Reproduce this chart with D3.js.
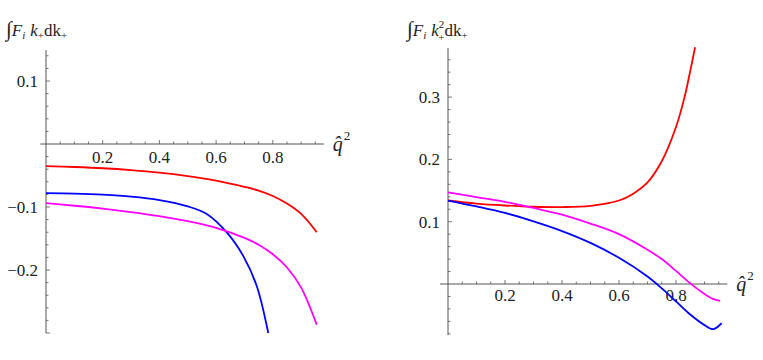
<!DOCTYPE html>
<html><head><meta charset="utf-8">
<script src="https://cdn.jsdelivr.net/npm/d3@7"></script>
<style>body{margin:0;background:#fff}svg{display:block}
svg text, svg tspan{font-family:"Liberation Serif","DejaVu Serif",serif !important;}</style>
</head><body><svg id="c" width="763" height="360"></svg>
<script>
// Left panel: ∫F_i k_+ dk_+
const qRedL = [0,0.1,0.2,0.3,0.4,0.5,0.6,0.7,0.75,0.8,0.85,0.9,0.955];
const redL  = [-0.035,-0.0365,-0.0385,-0.0415,-0.0455,-0.051,-0.058,-0.068,-0.074,-0.0825,-0.0945,-0.111,-0.140];
const qBlueL = [0,0.1,0.2,0.3,0.4,0.5,0.567,0.637,0.696,0.743,0.784];
const blueL  = [-0.078,-0.0788,-0.0805,-0.0835,-0.089,-0.099,-0.111,-0.140,-0.178,-0.225,-0.300];
const qMagL = [0,0.1,0.2,0.3,0.4,0.5,0.6,0.7,0.75,0.8,0.85,0.9,0.955];
const magL  = [-0.094,-0.098,-0.1025,-0.108,-0.1145,-0.1225,-0.133,-0.149,-0.160,-0.175,-0.196,-0.228,-0.287];
// Right panel: ∫F_i k_+^2 dk_+
const qRedR = [0,0.1,0.2,0.3,0.4,0.5,0.6,0.65,0.7,0.75,0.8,0.83,0.85,0.867];
const redR  = [0.134,0.129,0.126,0.124,0.1235,0.1255,0.134,0.145,0.163,0.197,0.252,0.300,0.342,0.380];
const qBlueR = [0,0.1,0.2,0.3,0.4,0.5,0.6,0.7,0.75,0.8,0.85,0.9,0.93,0.96];
const blueR  = [0.134,0.1245,0.114,0.1005,0.085,0.066,0.042,0.012,-0.007,-0.028,-0.049,-0.066,-0.0725,-0.063];
const qMagR = [0,0.1,0.2,0.3,0.4,0.5,0.6,0.7,0.75,0.8,0.85,0.9,0.93,0.955];
const magR  = [0.147,0.1395,0.132,0.122,0.1115,0.097,0.080,0.055,0.040,0.021,0.001,-0.016,-0.024,-0.027];
// tick labels
const xTickLabels = [0.2,0.4,0.6,0.8];
const yTickLabelsL = [0.1,-0.1,-0.2];
const yTickLabelsR = [0.1,0.2,0.3];

const svg = d3.select("#c");
const fmt = v => (v<0?"\u22120":"0") + "." + String(Math.round(Math.abs(v)*10));

function panel(o){
  const x = d3.scaleLinear().domain([0,1]).range([o.x0, o.x0+o.xs]);
  const y = d3.scaleLinear().domain([0,0.1]).range([o.y0, o.y0-o.ys]);
  const g = svg.append("g");
  const ax = "#555";
  g.append("line").attr("x1",x(o.xmin)).attr("x2",x(o.xmax)).attr("y1",y(0)).attr("y2",y(0)).attr("stroke",ax).attr("stroke-width",1);
  g.append("line").attr("x1",x(0)).attr("x2",x(0)).attr("y1",y(o.ymin)).attr("y2",y(o.ymax)).attr("stroke",ax).attr("stroke-width",1);
  d3.range(1,20).map(i=>i*0.05).forEach(v=>{
    const major = Math.abs(v*5-Math.round(v*5))<1e-6;
    g.append("line").attr("x1",x(v)).attr("x2",x(v)).attr("y1",y(0)).attr("y2",y(0)-(major?4:2.5)).attr("stroke",ax).attr("stroke-width",0.8);
  });
  xTickLabels.forEach(v=>{
    g.append("text").attr("x",x(v)).attr("y",y(0)+o.xlabDy).attr("text-anchor","middle").style("font-size","17px").attr("fill","#222").text(fmt(v));
  });
  const n0 = Math.ceil(o.ymin/0.02-1e-6), n1 = Math.floor(o.ymax/0.02+1e-6);
  d3.range(n0,n1+1).forEach(i=>{
    const v=i*0.02; if(i===0) return;
    const major = i%5===0;
    g.append("line").attr("x1",x(0)).attr("x2",x(0)+(major?4:2.5)).attr("y1",y(v)).attr("y2",y(v)).attr("stroke",ax).attr("stroke-width",0.8);
  });
  o.ylabels.forEach(v=>{
    g.append("text").attr("x",x(0)-8).attr("y",y(v)+6).attr("text-anchor","end").style("font-size","17px").attr("fill","#222").text(fmt(v));
  });
  const line = d3.line().x(d=>x(d[0])).y(d=>y(d[1])).curve(d3.curveCatmullRom.alpha(0.5));
  o.series.forEach(s=>{
    g.append("path").attr("d",line(d3.zip(s.q,s.v))).attr("fill","none").attr("stroke",s.c).attr("stroke-width",1.8);
  });
  const t = g.append("text").attr("x",x(o.xmax)+9).attr("y",y(0)+7).style("font-size","20px").attr("fill","#222");
  t.append("tspan").style("font-style","italic").text("q\u0302");
  t.append("tspan").style("font-size","13px").attr("dy",-11).attr("dx",1).text("2");
  const tt = g.append("text").attr("x",o.tx).attr("y",36).style("font-size","17px").attr("fill","#222");
  tt.append("tspan").style("font-size","21px").text("\u222B");
  tt.append("tspan").style("font-style","italic").text("F");
  tt.append("tspan").style("font-style","italic").style("font-size","11px").attr("dy",3).text("i");
  tt.append("tspan").style("font-style","italic").attr("dy",-3).attr("dx",5).text("k");
  if(o.sq){
    tt.append("tspan").style("font-size","11px").attr("dy",-8).text("2");
    tt.append("tspan").style("font-size","11px").attr("dy",13).attr("dx",-6).text("+");
    tt.append("tspan").attr("dy",-5).text("dk");
  } else {
    tt.append("tspan").style("font-size","11px").attr("dy",3).text("+");
    tt.append("tspan").attr("dy",-3).text("dk");
  }
  tt.append("tspan").style("font-size","11px").attr("dy",3).text("+");
}

panel({x0:46, xs:283.5, y0:144, ys:63, xmin:-0.02, xmax:0.98, ymin:-0.30, ymax:0.149,
  xlabDy:19, ylabels:yTickLabelsL, tx:6, sq:false,
  series:[{q:qRedL,v:redL,c:"#ff0000"},{q:qBlueL,v:blueL,c:"#0000ff"},{q:qMagL,v:magL,c:"#ff00ff"}]});
panel({x0:448, xs:285, y0:284, ys:62.3, xmin:-0.028, xmax:0.98, ymin:-0.082, ymax:0.379,
  xlabDy:17, ylabels:yTickLabelsR, tx:407, sq:true,
  series:[{q:qRedR,v:redR,c:"#ff0000"},{q:qBlueR,v:blueR,c:"#0000ff"},{q:qMagR,v:magR,c:"#ff00ff"}]});
</script></body></html>
